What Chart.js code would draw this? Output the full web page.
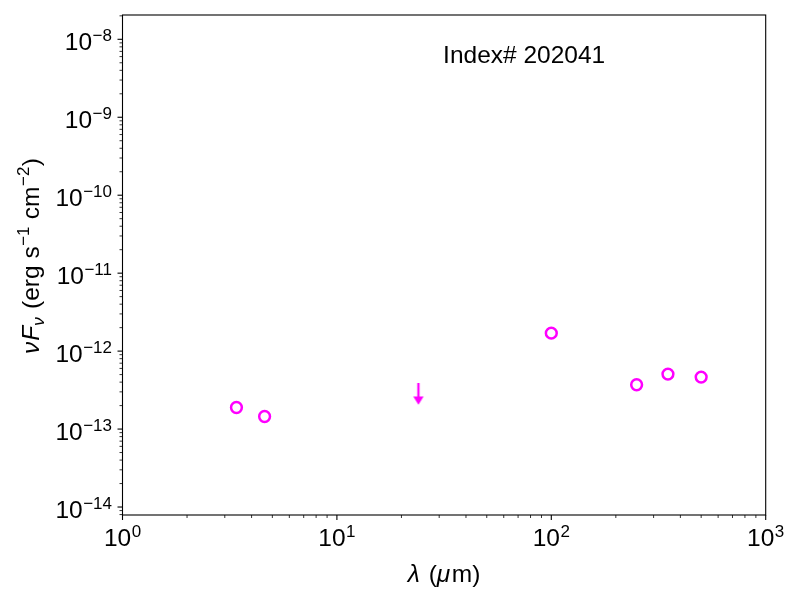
<!DOCTYPE html>
<html>
<head>
<meta charset="utf-8">
<script src="https://cdn.jsdelivr.net/npm/chart.js@4.4.1/dist/chart.umd.min.js"></script>
<style>
  html, body { margin: 0; padding: 0; background: #fff; }
</style>
</head>
<body>
<canvas id="sed" width="800" height="600"></canvas>
<script>
// photometry (micron, erg s^-1 cm^-2)
const wavelengths = [3.4, 4.6, 100, 250, 350, 500];
const fluxes = [1.89e-13, 1.45e-13, 1.70e-12, 3.70e-13, 5.07e-13, 4.64e-13];
// upper limit
const limitWavelengths = [24];
const limitFluxes = [3.9e-13];
// axes
const xRange = [1, 1000];
const yRange = [7.9e-15, 2.05e-8];
const xTickExps = [0, 1, 2, 3];
const yTickExps = [-14, -13, -12, -11, -10, -9, -8];
const sourceLabel = 'Index# 202041';

const MAGENTA = '#ff00ff';
const FONT = '"Liberation Sans", Arial, Helvetica, sans-serif';
const BASE = 24.5, SMALL = 17;

function arrowImage() {
  const c = document.createElement('canvas');
  c.width = 14; c.height = 46;
  const g = c.getContext('2d');
  g.strokeStyle = MAGENTA; g.fillStyle = MAGENTA;
  g.lineWidth = 2.3;
  g.beginPath(); g.moveTo(7, 23); g.lineTo(7, 37.5); g.stroke();
  g.beginPath(); g.moveTo(1.8, 36.4); g.lineTo(12.2, 36.4); g.lineTo(7, 44.8); g.closePath(); g.fill();
  return c;
}

// draw "10^exp" starting at x (left edge), baseline y
function power(ctx, exp, x, y) {
  const sup = String(exp).replace('-', '\u2212');
  ctx.font = BASE + 'px ' + FONT;
  ctx.fillText('10', x, y);
  const w = ctx.measureText('10').width;
  ctx.font = SMALL + 'px ' + FONT;
  ctx.fillText(sup, x + w + 0.5, y - 9.5);
}
function powerWidth(ctx, exp) {
  const sup = String(exp).replace('-', '\u2212');
  ctx.font = BASE + 'px ' + FONT;
  const w = ctx.measureText('10').width;
  ctx.font = SMALL + 'px ' + FONT;
  return w + 0.5 + ctx.measureText(sup).width;
}

// sequence of text runs: [text, italic, shift, gapAfter] (shift != 0 = small font)
function runs(ctx, parts, x, y, measureOnly) {
  let cx = x;
  for (const [t, it, shift, gap] of parts) {
    const size = shift ? SMALL : BASE;
    ctx.font = (it ? 'italic ' : '') + size + 'px ' + FONT;
    if (!measureOnly) ctx.fillText(t, cx, y - (shift || 0));
    cx += ctx.measureText(t).width + (gap || 0);
  }
  return cx - x;
}

const axesPlugin = {
  id: 'axesPlugin',
  afterDraw(chart) {
    const ctx = chart.ctx;
    const a = chart.chartArea;
    const xs = chart.scales.x, ys = chart.scales.y;
    ctx.save();
    ctx.fillStyle = '#000';
    ctx.strokeStyle = '#000';
    ctx.textBaseline = 'alphabetic';
    ctx.textAlign = 'left';

    // frame
    ctx.lineWidth = 1.1;
    ctx.strokeRect(a.left, a.top, a.right - a.left, a.bottom - a.top);

    // x ticks
    for (let e = 0; e <= 3; e++) {
      for (let m = 1; m <= 9; m++) {
        const v = m * Math.pow(10, e);
        if (v < xRange[0] || v > xRange[1]) continue;
        const px = xs.getPixelForValue(v);
        ctx.lineWidth = m === 1 ? 1.1 : 0.8;
        ctx.beginPath();
        ctx.moveTo(px, a.bottom);
        ctx.lineTo(px, a.bottom + (m === 1 ? 5 : 3));
        ctx.stroke();
      }
    }
    for (const e of xTickExps) {
      const px = xs.getPixelForValue(Math.pow(10, e));
      const w = powerWidth(ctx, e);
      power(ctx, e, px - w / 2, a.bottom + 31);
    }

    // y ticks
    for (let e = -15; e <= -8; e++) {
      for (let m = 1; m <= 9; m++) {
        const v = m * Math.pow(10, e);
        if (v < yRange[0] || v > yRange[1]) continue;
        const py = ys.getPixelForValue(v);
        ctx.lineWidth = m === 1 ? 1.1 : 0.8;
        ctx.beginPath();
        ctx.moveTo(a.left, py);
        ctx.lineTo(a.left - (m === 1 ? 5 : 3), py);
        ctx.stroke();
      }
    }
    for (const e of yTickExps) {
      const py = ys.getPixelForValue(Math.pow(10, e));
      const w = powerWidth(ctx, e);
      power(ctx, e, a.left - 10.5 - w, py + 11);
    }

    // x title
    const xParts = [['\u03bb', true, 0, 2], [' (', false], ['\u03bc', true, 0, 1.5], ['m)', false]];
    const xw = runs(ctx, xParts, 0, 0, true);
    runs(ctx, xParts, (a.left + a.right) / 2 - xw / 2, 582);

    // y title
    const yParts = [['\u03bd', true, 0, 1], ['F', true], ['\u03bd', true, -5, 1.5], [' (erg s', false, 0, 0.5],
                    ['\u22121', false, 10, 0.5], [' cm', false, 0, 0.5], ['\u22122', false, 10, 0.5], [')', false]];
    const yw = runs(ctx, yParts, 0, 0, true);
    ctx.translate(39, 256);
    ctx.rotate(-Math.PI / 2);
    runs(ctx, yParts, -yw / 2, 0);
    ctx.restore();

    // source label
    ctx.save();
    ctx.fillStyle = '#000';
    ctx.font = BASE + 'px ' + FONT;
    ctx.fillText(sourceLabel, a.left + 0.5 * (a.right - a.left) - 1, a.bottom - 0.904 * (a.bottom - a.top));
    ctx.restore();
  }
};

new Chart(document.getElementById('sed').getContext('2d'), {
  type: 'scatter',
  data: {
    datasets: [
      {
        data: wavelengths.map((x, i) => ({ x: x, y: fluxes[i] })),
        pointStyle: 'circle', pointRadius: 5.4, pointHoverRadius: 5.4,
        borderWidth: 2.5, borderColor: MAGENTA, backgroundColor: 'rgba(255,255,255,0)'
      },
      {
        data: limitWavelengths.map((x, i) => ({ x: x, y: limitFluxes[i] })),
        pointStyle: arrowImage(), pointRadius: 10, pointHoverRadius: 10
      }
    ]
  },
  options: {
    responsive: false, animation: false, devicePixelRatio: 1,
    layout: { padding: { left: 122.5, right: 34.3, top: 15, bottom: 85 } },
    plugins: { legend: { display: false }, tooltip: { enabled: false } },
    events: [],
    scales: {
      x: { type: 'logarithmic', min: xRange[0], max: xRange[1], display: false },
      y: { type: 'logarithmic', min: yRange[0], max: yRange[1], display: false }
    }
  },
  plugins: [axesPlugin]
});
</script>
</body>
</html>
